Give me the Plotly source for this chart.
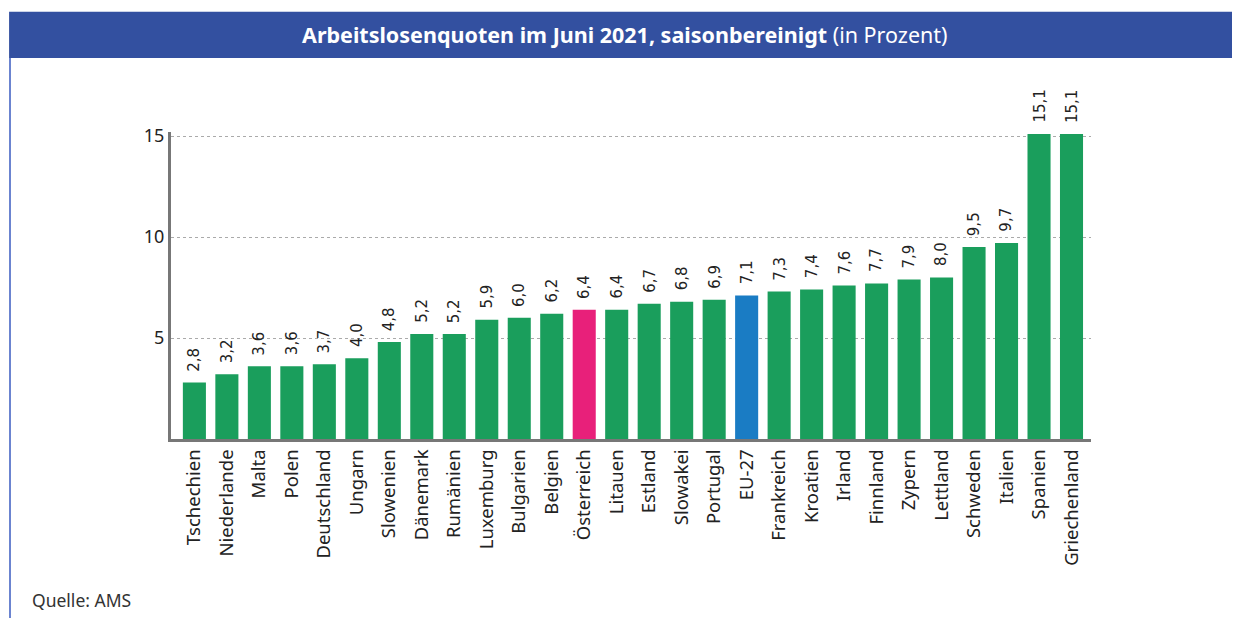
import plotly.graph_objects as go

countries = ["Tschechien", "Niederlande", "Malta", "Polen", "Deutschland", "Ungarn",
             "Slowenien", "Dänemark", "Rumänien", "Luxemburg", "Bulgarien", "Belgien",
             "Österreich", "Litauen", "Estland", "Slowakei", "Portugal", "EU-27",
             "Frankreich", "Kroatien", "Irland", "Finnland", "Zypern", "Lettland",
             "Schweden", "Italien", "Spanien", "Griechenland"]
values = [2.8, 3.2, 3.6, 3.6, 3.7, 4.0, 4.8, 5.2, 5.2, 5.9, 6.0, 6.2, 6.4, 6.4,
          6.7, 6.8, 6.9, 7.1, 7.3, 7.4, 7.6, 7.7, 7.9, 8.0, 9.5, 9.7, 15.1, 15.1]
y_ticks = [5, 10, 15]

GREEN = "#1a9e5c"
PINK = "#e8207a"
BLUE = "#1a7cc4"
colors = [PINK if c == "Österreich" else BLUE if c == "EU-27" else GREEN for c in countries]

FONT = "Noto Sans"

fig = go.Figure()
fig.add_trace(go.Bar(x=countries, y=values, marker=dict(color=colors, line=dict(width=0)),
                     hoverinfo="skip"))

for c, v in zip(countries, values):
    fig.add_annotation(x=c, y=v, xref="x", yref="y", text=f"{v:.1f}".replace(".", ","),
                       textangle=-90, showarrow=False, yanchor="bottom", xanchor="center",
                       yshift=9, font=dict(family="DejaVu Sans", size=15, color="#222"))

# title bar
fig.add_shape(type="rect", xref="paper", yref="paper", x0=-0.176, x1=1.2, y0=1.241, y1=1.392,
              fillcolor="#3350a0", line=dict(width=0), layer="below")
# left border line
fig.add_shape(type="line", xref="paper", yref="paper", x0=-0.175, x1=-0.175, y0=-0.7, y1=1.241,
              line=dict(color="#3a5bc0", width=1.5))
fig.add_annotation(xref="paper", yref="paper", x=0.493, y=1.316, xanchor="center", yanchor="middle",
                   showarrow=False,
                   text="<b>Arbeitslosenquoten im Juni 2021, saisonbereinigt</b> (in Prozent)",
                   font=dict(family=FONT, size=21.5, color="white"))
fig.add_annotation(xref="paper", yref="paper", x=-0.153, y=-0.525, xanchor="left", yanchor="middle",
                   showarrow=False, text="Quelle: AMS",
                   font=dict(family=FONT, size=17.5, color="#333"))

fig.update_layout(
    width=1232, height=610,
    margin=dict(l=163, r=149, t=124, b=179),
    paper_bgcolor="white", plot_bgcolor="white",
    bargap=0.29, showlegend=False,
    font=dict(family=FONT, size=16, color="#222"),
    xaxis=dict(range=[-0.72, 27.6], tickangle=-90, showline=True, linecolor="#777",
               linewidth=3, ticks="", showgrid=False, tickfont=dict(size=18.5, color="#222")),
    yaxis=dict(range=[0, 15.2], tickvals=y_ticks, showline=True, linecolor="#777", linewidth=3,
               ticks="", showgrid=True, gridcolor="#aaa", griddash="dot", gridwidth=1,
               zeroline=False, tickfont=dict(size=18, color="#222")),
)

fig.write_html("out.html")
